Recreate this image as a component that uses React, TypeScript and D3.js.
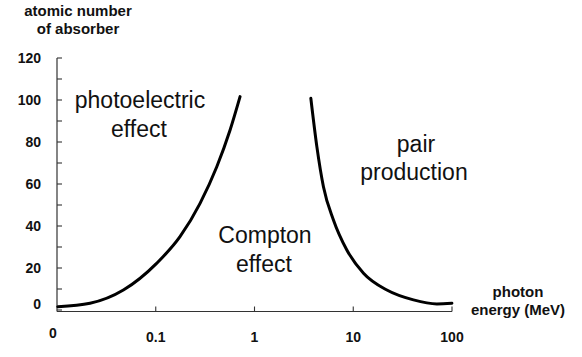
import * as d3 from 'd3'

// boundary between photoelectric and Compton dominance
const peEnergy = [0.0102, 0.0216, 0.047, 0.102, 0.176, 0.281, 0.415, 0.566, 0.714]
const peZ = [1.6, 3.2, 9.5, 22.2, 34.9, 50.8, 68.2, 85.7, 101.6]

// boundary between Compton and pair production dominance
const ppEnergy = [3.72, 4.28, 4.99, 6.3, 8.61, 12.7, 21.9, 40.7, 70.3, 99.8]
const ppZ = [100.8, 77.8, 58.7, 42.9, 28.6, 17.5, 9.5, 4.8, 2.9, 3.2]

const xTickValues = [0.01, 0.1, 1, 10, 100]
const xTickLabels = ['0', '0.1', '1', '10', '100']
const yMinorTicks = [0, 10, 20, 30, 40, 50, 60, 70, 80, 90, 100, 110, 120]
const yTickLabels = [0, 20, 40, 60, 80, 100, 120]

const FONT = 'Liberation Sans, Arial, Helvetica, sans-serif'

export default function App() {
  const W = 582
  const H = 357
  const x = d3.scaleLog().domain([0.01, 100]).range([57, 452])
  const y = d3.scaleLinear().domain([0, 120]).range([310, 58])
  const axisY = y(0) + 1.5

  const line = d3.line<[number, number]>()
    .x(d => x(d[0]))
    .y(d => y(d[1]))
    .curve(d3.curveMonotoneX)

  const pePath = line(peEnergy.map((e, i) => [e, peZ[i]]))
  const ppPath = line(ppEnergy.map((e, i) => [e, ppZ[i]]))

  const bold = { fontFamily: FONT, fontWeight: 700, fill: '#111' }
  const reg = { fontFamily: FONT, fontWeight: 400, fill: '#111', fontSize: 23 }

  return (
    <svg width={W} height={H} style={{ position: 'absolute', left: 0, top: 0, background: '#fff' }}>
      {/* y axis */}
      <line x1={x(0.01)} x2={x(0.01)} y1={y(120)} y2={axisY} stroke="#333" strokeWidth={1.2} />
      {yMinorTicks.map(t => (
        <line key={t} x1={x(0.01)} x2={x(0.01) + 5} y1={y(t)} y2={y(t)} stroke="#333" strokeWidth={1.1} />
      ))}
      {yTickLabels.map(t => (
        <text key={t} x={41} y={y(t) + (t === 0 ? -6 : 0)} dy="0.35em" textAnchor="end" fontSize={14} {...bold}>
          {t}
        </text>
      ))}

      {/* x axis */}
      <line x1={x(0.01)} x2={x(100)} y1={axisY} y2={axisY} stroke="#333" strokeWidth={1.2} />
      {xTickValues.slice(1).map(t => (
        <line key={t} x1={x(t)} x2={x(t)} y1={axisY} y2={axisY - 5} stroke="#333" strokeWidth={1.1} />
      ))}
      {xTickValues.map((t, i) => (
        <text key={t} x={x(t) + (i === 0 ? -4 : 0)} y={i === 0 ? 338 : 342} textAnchor="middle" fontSize={14} {...bold}>
          {xTickLabels[i]}
        </text>
      ))}

      {/* axis titles */}
      <text x={78} y={16} textAnchor="middle" fontSize={15} {...bold}>atomic number</text>
      <text x={78} y={34} textAnchor="middle" fontSize={15} {...bold}>of absorber</text>
      <text x={518} y={297} textAnchor="middle" fontSize={15} {...bold}>photon</text>
      <text x={518} y={315} textAnchor="middle" fontSize={15} {...bold}>energy (MeV)</text>

      {/* curves */}
      <path d={pePath ?? ''} fill="none" stroke="#000" strokeWidth={3} strokeLinecap="round" />
      <path d={ppPath ?? ''} fill="none" stroke="#000" strokeWidth={3} strokeLinecap="round" />

      {/* region labels */}
      <text x={140} y={108} textAnchor="middle" {...reg}>photoelectric</text>
      <text x={139} y={137} textAnchor="middle" {...reg}>effect</text>
      <text x={265} y={243} textAnchor="middle" {...reg}>Compton</text>
      <text x={264} y={272} textAnchor="middle" {...reg}>effect</text>
      <text x={416} y={152} textAnchor="middle" {...reg}>pair</text>
      <text x={414} y={180} textAnchor="middle" {...reg}>production</text>
    </svg>
  )
}
